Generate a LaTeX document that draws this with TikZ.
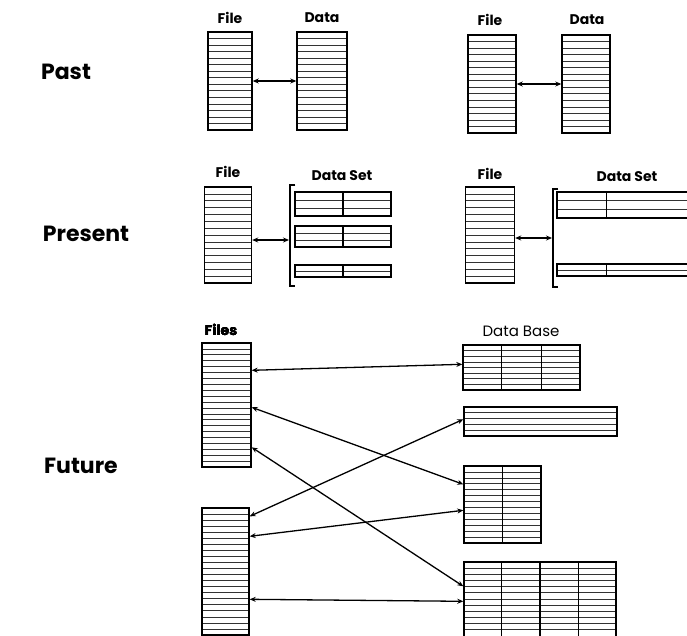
\documentclass[tikz,border=0pt]{standalone}
\usepackage{fontspec}
\setmainfont{Poppins}
\usetikzlibrary{calc,arrows.meta}
\newcommand{\splitbox}[2]{\draw[rule] ($(#1.north west)!{#2}!(#1.north east)$) -- ($(#1.south west)!{#2}!(#1.south east)$);}
\begin{document}
\begin{tikzpicture}[x=1pt, y=-1pt,
        box/.style={draw, line width=1.4pt, inner sep=0pt, fill=white},
        rule/.style={line width=1.2pt},
        stripe/.style={line width=0.7pt, black!80},
        rows/.style={path picture={
            \foreach \k in {1,...,#1}
                \draw[stripe] ($(path picture bounding box.north west)!{\k/(#1+1)}!(path picture bounding box.south west)$)
                           -- ($(path picture bounding box.north east)!{\k/(#1+1)}!(path picture bounding box.south east)$);
        }},
        lab/.style={font=\bfseries\fontsize{14}{16}\selectfont, inner sep=1pt},
        era/.style={font=\bfseries\fontsize{22}{26}\selectfont, inner sep=1pt},
        link/.style={<->, >={Stealth[length=6pt, width=5pt]}, line width=1.3pt}
    ]
    \clip (0,0) rectangle (687,635);

    % past
    \node (past) [era] at (66,72) {Past};
    \node (pf1) [box, rows=14, minimum width=44, minimum height=98] at (230,81) {};
    \node (pd1) [box, rows=14, minimum width=50, minimum height=98] at (322,81) {};
    \node (pf2) [box, rows=14, minimum width=48, minimum height=98] at (492,84) {};
    \node (pd2) [box, rows=14, minimum width=48, minimum height=98] at (586,84) {};
    \node [lab] at (230,18) {File};
    \node [lab] at (322,18) {Data};
    \node [lab] at (490,20) {File};
    \node [lab] at (587,20) {Data};
    \draw [link] (pf1) -- (pd1);
    \draw [link] (pf2) -- (pd2);

    % present
    \node (present) [era] at (86,234) {Present};
    \node (sf1) [box, rows=13, minimum width=47, minimum height=96] at (228,235) {};
    \node (s1) [box, rows=2, minimum width=96, minimum height=24] at (343,204) {};
    \node (s2) [box, rows=2, minimum width=96, minimum height=21] at (343,236.5) {};
    \node (s3) [box, rows=1, minimum width=96, minimum height=12] at (343,271) {};
    \foreach \n in {s1,s2,s3} \splitbox{\n}{0.5}
    \draw [rule] (295,185) -- (290,185) -- (290,286) -- (295,286);
    \coordinate (b1) at (289,240);
    \draw [link] (b1 -| sf1.east) -- (b1);
    \node (sf2) [box, rows=13, minimum width=49, minimum height=96] at (490,235) {};
    \node (r1) [box, rows=2, minimum width=150, minimum height=26] at (632,205) {};
    \node (r2) [box, rows=1, minimum width=150, minimum height=12] at (632,270) {};
    \foreach \n in {r1,r2} \splitbox{\n}{0.333}
    \draw [rule] (558,189) -- (553,189) -- (553,287) -- (558,287);
    \coordinate (b2) at (552,238);
    \draw [link] (b2 -| sf2.east) -- (b2);
    \node [lab] at (228,172) {File};
    \node [lab] at (342,176) {Data Set};
    \node [lab] at (490,174) {File};
    \node [lab] at (627,177) {Data Set};

    % future
    \node (future) [era] at (81,466) {Future};
    \node (f1) [box, rows=20, minimum width=49, minimum height=124] at (226.5,405) {};
    \node (f2) [box, rows=20, minimum width=47, minimum height=127] at (225.5,571.5) {};
    \node (db1) [box, rows=7, minimum width=117, minimum height=45] at (521.5,367.5) {};
    \node (db2) [box, rows=4, minimum width=153, minimum height=29] at (540.5,421.5) {};
    \node (db3) [box, rows=12, minimum width=77, minimum height=77] at (502.5,504.5) {};
    \node (db4) [box, rows=12, minimum width=152, minimum height=80] at (540,602) {};
    \foreach \f in {1/3,2/3} \splitbox{db1}{\f}
    \splitbox{db3}{0.5}
    \foreach \f in {0.25,0.5,0.75} \splitbox{db4}{\f}
    \node [lab] at (221,330) {Files};
    \node [lab, font=\fontsize{15}{17}\selectfont] at (521,331) {Data Base};
    \draw [link] ($(f1.north east)+(0,28)$) -- ($(db1.north west)+(0,20)$);
    \draw [link] ($(f1.north east)+(0,65)$) -- ($(db3.north west)+(0,19)$);
    \draw [link] ($(f1.north east)+(0,105)$) -- ($(db4.north west)+(0,25)$);
    \draw [link] ($(f2.north east)+(0,9)$) -- ($(db2.north west)+(0,13)$);
    \draw [link] ($(f2.north east)+(0,29)$) -- ($(db3.north west)+(0,45)$);
    \draw [link] ($(f2.north east)+(0,92)$) -- ($(db4.north west)+(0,40)$);
\end{tikzpicture}
\end{document}
